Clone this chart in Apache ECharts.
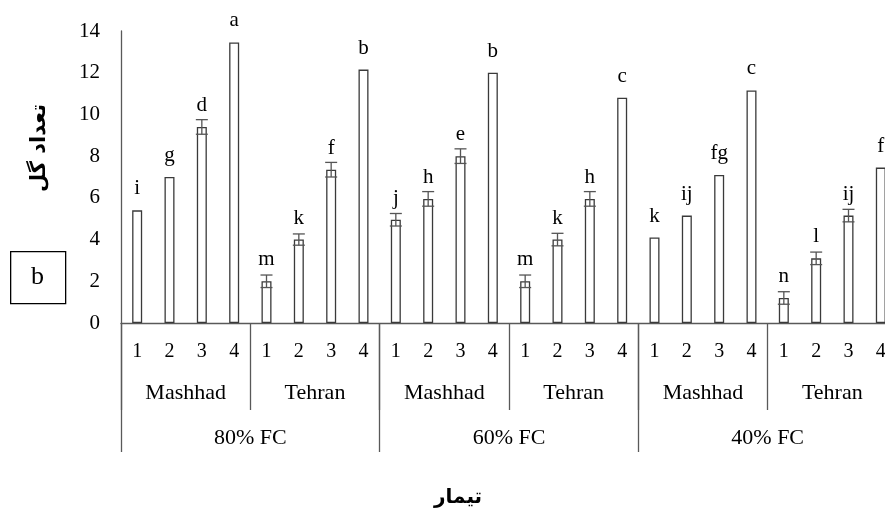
<!DOCTYPE html>
<html>
<head>
<meta charset="utf-8">
<script src="https://cdn.jsdelivr.net/npm/echarts@6/dist/echarts.min.js"></script>
<style>
html,body{margin:0;padding:0;background:#fff;}
#chart{width:885px;height:515px;}
</style>
</head>
<body>
<div id="chart"></div>
<script>
// ---- data ----
var cultivars = ['1', '2', '3', '4'];
var sites = ['Mashhad', 'Tehran'];
var regimes = ['80% FC', '60% FC', '40% FC'];
var values = [5.4, 7.0, 9.4, 13.45, 2.0, 4.0, 7.35, 12.15,
              4.95, 5.95, 8.0, 12.0, 2.0, 4.0, 5.95, 10.8,
              4.1, 5.15, 7.1, 11.15, 1.2, 3.1, 5.15, 7.45];
var errors = [0, 0, 0.35, 0, 0.3, 0.27, 0.35, 0,
              0.3, 0.35, 0.35, 0, 0.3, 0.3, 0.35, 0,
              0, 0, 0, 0, 0.3, 0.3, 0.3, 0];
var letters = ['i', 'g', 'd', 'a', 'm', 'k', 'f', 'b',
               'j', 'h', 'e', 'b', 'm', 'k', 'h', 'c',
               'k', 'ij', 'fg', 'c', 'n', 'l', 'ij', 'f'];
var yTicks = {min: 0, max: 14, interval: 2};

// ---- derived category lists ----
var siteCats = [];
var cultCats = [];
regimes.forEach(function (r) {
  sites.forEach(function (s) {
    siteCats.push(s);
    cultivars.forEach(function (c) { cultCats.push(c); });
  });
});

var FONT = "'Liberation Serif', 'DejaVu Serif', serif";
var AX = '#595959';
var gridBox = {left: 121, top: 31, width: 776, height: 292, containLabel: false, outerBoundsMode: 'none'};

var chart = echarts.init(document.getElementById('chart'));

var errData = values.map(function (v, i) { return [i, v, errors[i]]; });

var option = {
  animation: false,
  backgroundColor: '#fff',
  grid: [
    Object.assign({}, gridBox),
    Object.assign({}, gridBox),
    Object.assign({}, gridBox)
  ],
  xAxis: [
    {
      gridIndex: 0, type: 'category', data: cultCats, position: 'bottom',
      axisLine: {show: true, lineStyle: {color: AX, width: 1.3}},
      axisTick: {show: false},
      axisLabel: {interval: 0, margin: 19, color: '#000', fontFamily: FONT, fontSize: 20}
    },
    {
      gridIndex: 1, type: 'category', data: siteCats, position: 'bottom',
      axisLine: {show: false},
      axisTick: {show: true, interval: 0, length: 87, lineStyle: {color: AX, width: 1.3}},
      axisLabel: {interval: 0, margin: 59, color: '#000', fontFamily: FONT, fontSize: 22}
    },
    {
      gridIndex: 2, type: 'category', data: regimes, position: 'bottom',
      axisLine: {show: false},
      axisTick: {show: true, interval: 0, length: 129, lineStyle: {color: AX, width: 1.3}},
      axisLabel: {interval: 0, margin: 104, color: '#000', fontFamily: FONT, fontSize: 22}
    }
  ],
  yAxis: [
    {
      gridIndex: 0, type: 'value', min: yTicks.min, max: yTicks.max, interval: yTicks.interval,
      axisLine: {show: true, lineStyle: {color: AX, width: 1.3}},
      axisTick: {show: false},
      splitLine: {show: false},
      axisLabel: {margin: 21, color: '#000', fontFamily: FONT, fontSize: 21}
    },
    {gridIndex: 1, type: 'value', min: 0, max: 14, show: false, splitLine: {show: false}},
    {gridIndex: 2, type: 'value', min: 0, max: 14, show: false, splitLine: {show: false}}
  ],
  series: [
    {
      type: 'bar',
      xAxisIndex: 0, yAxisIndex: 0,
      data: values,
      barWidth: 10,
      itemStyle: {color: '#fff', borderColor: '#3a3a3a', borderWidth: 1.3},
      label: {
        show: true, position: 'top', distance: 11,
        color: '#000', fontFamily: FONT, fontSize: 21,
        formatter: function (p) { return letters[p.dataIndex]; }
      },
      z: 2
    },
    {
      type: 'custom',
      xAxisIndex: 0, yAxisIndex: 0,
      data: errData,
      z: 3,
      renderItem: function (params, api) {
        var e = api.value(2);
        if (!e) return null;
        var x = api.value(0), v = api.value(1);
        var hi = api.coord([x, v + e]);
        var lo = api.coord([x, v - e]);
        var hw = 6;
        var st = {stroke: '#555', lineWidth: 1.3};
        return {
          type: 'group',
          children: [
            {type: 'line', shape: {x1: hi[0], y1: hi[1], x2: lo[0], y2: lo[1]}, style: st},
            {type: 'line', shape: {x1: hi[0] - hw, y1: hi[1], x2: hi[0] + hw, y2: hi[1]}, style: st},
            {type: 'line', shape: {x1: lo[0] - hw, y1: lo[1], x2: lo[0] + hw, y2: lo[1]}, style: st}
          ]
        };
      }
    }
  ],
  graphic: [
    {
      type: 'rect', left: 10, top: 251,
      shape: {x: 0, y: 0, width: 55, height: 52},
      style: {fill: '#fff', stroke: '#000', lineWidth: 1.3}
    },
    {
      type: 'text', x: 37.5, y: 277,
      style: {text: 'b', fill: '#000', font: "26px 'Liberation Serif', serif", textAlign: 'center', textVerticalAlign: 'middle'}
    },
    {
      type: 'text', x: 40, y: 148, rotation: Math.PI / 2,
      style: {text: 'تعداد گل', fill: '#000', font: "bold 21px 'DejaVu Sans', 'Noto Sans', sans-serif", textAlign: 'center', textVerticalAlign: 'middle'}
    },
    {
      type: 'text', x: 458, y: 498,
      style: {text: 'تیمار', fill: '#000', font: "bold 20px 'DejaVu Sans', 'Noto Sans', sans-serif", textAlign: 'center', textVerticalAlign: 'middle'}
    }
  ]
};

chart.setOption(option);
</script>
</body>
</html>
